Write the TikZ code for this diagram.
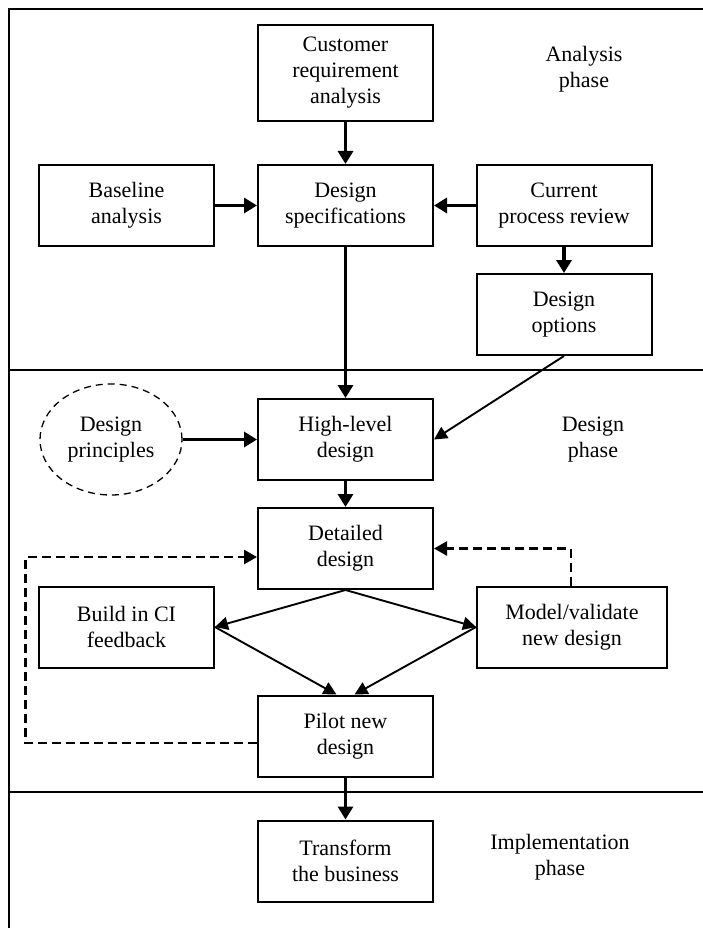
\documentclass[tikz,border=0pt]{standalone}
\usepackage{fontspec}
\setmainfont{Liberation Serif}
\usetikzlibrary{arrows.meta,shapes.geometric}
\begin{document}
\begin{tikzpicture}[x=1pt,y=-1pt,
  txt/.style={font=\fontsize{22}{26}\selectfont, align=center, inner sep=0pt},
  box/.style={txt, draw, line width=2pt, minimum width=175pt, minimum height=81pt},
  frame/.style={line width=2.4pt},
  flow/.style={line width=3.2pt, -{Triangle[length=13pt,width=15pt]}},
  slant/.style={line width=1.9pt, -{Triangle[length=13pt,width=13pt]}},
  loop/.style={line width=2.6pt, dash pattern=on 9pt off 5pt, -{Triangle[length=13pt,width=14pt]}}]
  \useasboundingbox (0,0) rectangle (703,928);

  % phase frame
  \draw[frame] (703,9) -- (9,9) -- (9,928);
  \draw[frame] (9,370) -- (703,370);
  \draw[frame] (9,792) -- (703,792);

  % boxes
  \node[box, minimum height=96pt] (cust) at (345.5,73) {Customer\\requirement\\analysis};
  \node[box] (base) at (126.5,205.5) {Baseline\\analysis};
  \node[box] (spec) at (345.5,205.5) {Design\\specifications};
  \node[box] (curr) at (564,205.5) {Current\\process review};
  \node[box] (opts) at (564,314.5) {Design\\options};
  \node[txt, draw, ellipse, line width=1.3pt, dash pattern=on 7pt off 5pt,
        minimum width=142pt, minimum height=111pt] (princ) at (111,439.5) {Design\\principles};
  \node[box] (high) at (345.5,439.5) {High-level\\design};
  \node[box] (detl) at (345.5,548.5) {Detailed\\design};
  \node[box] (build) at (126.5,627) {Build in CI\\feedback};
  \node[box, minimum width=190pt] (model) at (572,627) {Model/validate\\new design};
  \node[box] (pilot) at (345.5,736) {Pilot new\\design};
  \node[box] (trans) at (345.5,861) {Transform\\the business};

  % phase labels
  \node[txt] (phA) at (584,69) {Analysis\\phase};
  \node[txt] (phD) at (593,440) {Design\\phase};
  \node[txt] (phI) at (560,857) {Implementation\\phase};

  % connectors
  \draw[flow] (cust) -- (spec);
  \draw[flow] (base) -- (spec);
  \draw[flow] (curr) -- (spec);
  \draw[flow] (curr) -- (opts);
  \draw[flow] (spec) -- (high);
  \draw[slant] (opts.south) -- (high.east);
  \draw[flow] (princ) -- (high);
  \draw[flow] (high) -- (detl);
  \draw[slant] (detl.south) -- (build.east);
  \draw[slant] (detl.south) -- (model.west);
  \draw[slant] (build.east) -- ([xshift=-9pt]pilot.north);
  \draw[slant] (model.west) -- ([xshift=9pt]pilot.north);
  \draw[flow] (pilot) -- (trans);

  % feedback loops
  \coordinate (lp) at (25.5,650);
  \draw[loop] ([yshift=-7pt]pilot.west) -| (lp) |- ([yshift=-8.5pt]detl.west);
  \draw[loop] ([xshift=-1pt]model.north) |- (detl.east);
\end{tikzpicture}
\end{document}
